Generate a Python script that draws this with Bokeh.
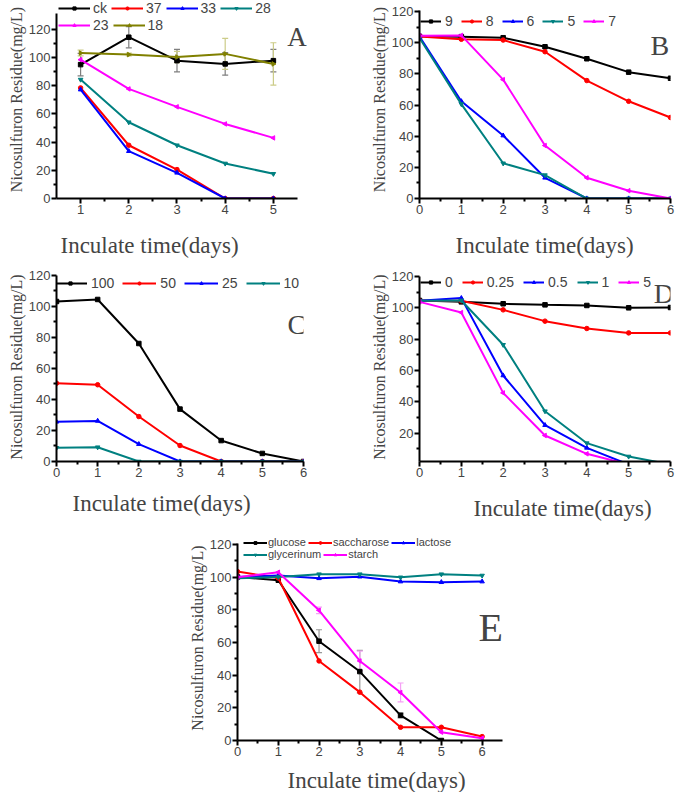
import math
from bokeh.plotting import figure
from bokeh.models import (Range1d, FixedTicker, Legend, LegendItem, Label, Whisker,
                          ColumnDataSource, Title, TeeHead)
from bokeh.layouts import column, row
from bokeh.embed import file_html
from bokeh.resources import INLINE

BLACK = "#000000"; RED = "#ff0000"; BLUE = "#0000ff"
TEAL = "#008080"; MAGENTA = "#ff00ff"; OLIVE = "#808000"

# ---------------- data ----------------
# Panel A (temperature)
a_days = [1, 2, 3, 4, 5]
a_ck = [94.8, 114.2, 97.6, 95.3, 97.6]
a_ck_err = [8, 7.5, 8, 8, 8]
a_37 = [78.3, 37.7, 20.5, 0, 0]
a_33 = [77.1, 33.5, 18.2, 0, 0]
a_28 = [84.2, 54.0, 37.7, 24.8, 17.5]
a_23 = [98.3, 77.6, 64.9, 52.8, 42.9]
a_18 = [103.0, 101.9, 100.2, 102.4, 95.3]
a_18_err = [2, 1, 4, 11, 15]

# Panel B (pH)
b_days = [0, 1, 2, 3, 4, 5, 6]
b_9 = [104.1, 103.9, 103.2, 97.4, 89.7, 81.1, 77.2]
b_8 = [104.0, 102.2, 101.7, 94.2, 75.7, 62.4, 52.0]
b_6 = [104.0, 62.4, 40.4, 13.3, 0, 0, 0]
b_5 = [103.0, 60.6, 22.6, 15.0, 0, 0, 0]
b_7 = [104.5, 104.7, 76.3, 34.0, 13.3, 5.0, 0]

# Panel C (initial concentration)
c_days = [0, 1, 2, 3, 4, 5, 6]
c_100 = [103.2, 104.5, 76.1, 33.8, 13.5, 5.2, 0]
c_50 = [50.5, 49.5, 29.0, 10.3, 0, 0, 0]
c_25 = [25.6, 26.2, 11.2, 0, 0, 0, 0]
c_10 = [8.8, 9.2, 0, 0, 0, 0, 0]

# Panel D (inoculum)
d_days = [0, 1, 2, 3, 4, 5, 6]
d_0 = [104.7, 103.8, 102.6, 101.9, 101.5, 100.0, 100.2]
d_025 = [104.5, 104.5, 98.7, 91.5, 86.8, 84.0, 84.0]
d_05 = [104.5, 106.2, 56.8, 25.1, 10.6, 0, 0]
d_1 = [104.5, 104.7, 76.4, 34.0, 13.6, 5.1, 0]
d_5 = [103.8, 97.0, 45.7, 18.5, 6.8, 0, 0]

# Panel E (carbon source)
e_days = [0, 1, 2, 3, 4, 5, 6]
e_glucose_days = [0, 1, 2, 3, 4, 5]
e_glucose = [100.1, 98.1, 60.8, 42.2, 15.4, 0]
e_glucose_err = [0, 0, 7, 13, 1.5, 0]
e_saccharose = [103.4, 99.5, 48.7, 29.6, 8.1, 8.1, 2.4]
e_lactose = [100.1, 101.0, 99.3, 100.3, 97.3, 96.9, 97.3]
e_glycerinum = [99.3, 100.1, 101.8, 101.8, 99.9, 101.8, 101.0]
e_starch = [100.0, 103.0, 79.7, 48.7, 29.4, 5.1, 1.4]
e_starch_err = [0, 0, 2, 6, 5.8, 0, 0]

y_ticks = [0, 20, 40, 60, 80, 100, 120]
y_minor = [10, 30, 50, 70, 90, 110]
d_y_ticks = [20, 40, 60, 80, 100, 120]
d_y_minor = [10, 30, 50, 70, 90, 110]
x_ticks_a = [1, 2, 3, 4, 5]
x_minor_a = [1.5, 2.5, 3.5, 4.5]
x_ticks = [0, 1, 2, 3, 4, 5, 6]
x_minor = [0.5, 1.5, 2.5, 3.5, 4.5, 5.5]

YLABEL = "Nicosulfuron Residue(mg/L)"
XLABEL = "Inculate time(days)"
SANS = "Liberation Sans"
SERIF = "Liberation Serif"


def make_fig(fw, fh, left, right, top, bottom, xr, yr, xt, xm, yt, ym,
             xlab_offset, gap, xbounds, ybounds):
    p = figure(frame_width=fw, frame_height=fh, min_border_left=left,
               min_border_right=right, min_border_top=top,
               min_border_bottom=bottom, x_range=Range1d(*xr),
               y_range=Range1d(*yr), output_backend="svg",
               toolbar_location=None)
    p.xgrid.visible = False
    p.ygrid.visible = False
    p.outline_line_color = None
    p.xaxis.ticker = FixedTicker(ticks=xt, minor_ticks=xm)
    p.yaxis.ticker = FixedTicker(ticks=yt, minor_ticks=ym)
    p.xaxis.bounds = xbounds
    p.yaxis.bounds = ybounds
    for ax in p.xaxis + p.yaxis:
        ax.axis_line_width = 2
        ax.major_tick_line_width = 2
        ax.minor_tick_line_width = 2
        ax.major_tick_in = 0
        ax.major_tick_out = 5
        ax.minor_tick_in = 0
        ax.minor_tick_out = 3
        ax.major_label_text_font = SANS
        ax.major_label_text_font_size = "13px"
        ax.major_label_standoff = 1
    p.yaxis.axis_label = YLABEL
    p.yaxis.axis_label_text_font = SERIF
    p.yaxis.axis_label_text_font_style = "normal"
    p.yaxis.axis_label_text_font_size = "16px"
    p.yaxis.axis_label_standoff = 1
    if gap > 0:
        p.add_layout(Title(text=" ", text_font_size="1px", standoff=gap,
                           align="left"), "below")
    t = Title(text=XLABEL, align="left", offset=xlab_offset, standoff=0,
              text_font=SERIF, text_font_style="normal",
              text_font_size="23px")
    p.add_layout(t, "below")
    return p


def series(p, x, y, color, marker, label, angle=0.0):
    r1 = p.line(x, y, line_color=color, line_width=2)
    r2 = p.scatter(x, y, marker=marker, size=4.5, angle=angle,
                   fill_color=color, line_color=color)
    return LegendItem(label=label, renderers=[r1, r2])


def legend(p, items, loc, glyph_w, spacing, font="14px", h=16, gh=8,
           standoff=3):
    leg = Legend(items=items, location=loc, orientation="horizontal",
                 glyph_width=glyph_w, glyph_height=gh, label_height=h,
                 label_width=0, label_standoff=standoff, spacing=spacing,
                 padding=0, margin=0, border_line_color=None,
                 background_fill_alpha=0, label_text_font=SANS,
                 label_text_font_size=font)
    p.add_layout(leg)


def errbars(p, x, y, err, color):
    xs, lo, hi = [], [], []
    for xi, yi, ei in zip(x, y, err):
        if ei > 0:
            xs.append(xi); lo.append(yi - ei); hi.append(yi + ei)
    src = ColumnDataSource(dict(x=xs, lo=lo, hi=hi))
    w = Whisker(source=src, base="x", lower="lo", upper="hi",
                line_color=color, line_width=1.2, level="underlay",
                upper_head=TeeHead(size=6, line_color=color, line_width=1.2),
                lower_head=TeeHead(size=6, line_color=color, line_width=1.2))
    p.add_layout(w)


def letter(p, x, y, txt, size):
    p.add_layout(Label(x=x, y=y, text=txt, text_font=SERIF,
                       text_font_size=size, text_baseline="alphabetic"))


LEFT = math.pi / 2
RIGHT = -math.pi / 2

# ---------------- Panel A ----------------
pa = make_fig(254, 198, 56, 28, 0, 60, (0.5, 5.77), (0, 140.2),
              x_ticks_a, x_minor_a, y_ticks, y_minor, 4, 11,
              (0.5, 5.5), (0, 131))
errbars(pa, a_days, a_ck, a_ck_err, "#7f7f7f")
errbars(pa, a_days, a_18, a_18_err, "#cccc88")
ia = [series(pa, a_days, a_ck, BLACK, "square", "ck"),
      series(pa, a_days, a_37, RED, "circle", "37"),
      series(pa, a_days, a_33, BLUE, "triangle", "33"),
      series(pa, a_days, a_28, TEAL, "inverted_triangle", "28"),
      series(pa, a_days, a_23, MAGENTA, "triangle", "23", LEFT),
      series(pa, a_days, a_18, OLIVE, "triangle", "18", RIGHT)]
legend(pa, ia[:4], (2, 182), 32, 4)
legend(pa, ia[4:], (2, 165), 32, 4)
letter(pa, 5.29, 114.7, "A", "27px")

# ---------------- Panel B ----------------
pb = make_fig(251, 198, 81, 5, 0, 60, (0, 6), (0, 127.1),
              x_ticks, x_minor, y_ticks, y_minor, 36, 11,
              (0, 6), (0, 120.5))
ib = [series(pb, b_days, b_9, BLACK, "square", "9"),
      series(pb, b_days, b_8, RED, "circle", "8"),
      series(pb, b_days, b_6, BLUE, "triangle", "6"),
      series(pb, b_days, b_5, TEAL, "inverted_triangle", "5"),
      series(pb, b_days, b_7, MAGENTA, "triangle", "7", LEFT)]
legend(pb, ib, (1, 169), 21, 8, standoff=4)
letter(pb, 5.52, 98.2, "B", "28px")

# ---------------- Panel C ----------------
pc = make_fig(247, 189, 56, 35, 14, 61, (0, 6), (0, 121.9),
              x_ticks, x_minor, y_ticks, y_minor, 16, 6,
              (0, 6), (0, 120))
ic = [series(pc, c_days, c_100, BLACK, "square", "100"),
      series(pc, c_days, c_50, RED, "circle", "50"),
      series(pc, c_days, c_25, BLUE, "triangle", "25"),
      series(pc, c_days, c_10, TEAL, "inverted_triangle", "10")]
legend(pc, ic, (-3, 170), 34, 8, standoff=4)
letter(pc, 5.61, 88.4, "C", "28px")

# ---------------- Panel D ----------------
pd_ = make_fig(251, 189, 81, 5, 14, 61, (0, 6), (1.9, 122.55),
               x_ticks, x_minor, d_y_ticks, d_y_minor, 54, 11,
               (0, 6), (1.9, 120))
idd = [series(pd_, d_days, d_0, BLACK, "square", "0"),
       series(pd_, d_days, d_025, RED, "circle", "0.25"),
       series(pd_, d_days, d_05, BLUE, "triangle", "0.5"),
       series(pd_, d_days, d_1, TEAL, "inverted_triangle", "1"),
       series(pd_, d_days, d_5, MAGENTA, "triangle", "5", LEFT)]
legend(pd_, idd, (1, 171), 21, 9, standoff=4)
letter(pd_, 5.6, 109.1, "D", "28px")

# ---------------- Panel E ----------------
pe = make_fig(265, 205, 237, 20, 13, 50, (0, 6.5), (0, 125.5),
              x_ticks, x_minor, y_ticks, y_minor, 50, 4,
              (0, 6.5), (0, 120.6))
errbars(pe, e_glucose_days, e_glucose, e_glucose_err, "#999999")
errbars(pe, e_days, e_starch, e_starch_err, "#f5a0f5")
ie = [series(pe, e_glucose_days, e_glucose, BLACK, "square", "glucose"),
      series(pe, e_days, e_saccharose, RED, "circle", "saccharose"),
      series(pe, e_days, e_lactose, BLUE, "triangle", "lactose"),
      series(pe, e_days, e_glycerinum, TEAL, "inverted_triangle", "glycerinum"),
      series(pe, e_days, e_starch, MAGENTA, "triangle", "starch", LEFT)]
legend(pe, ie[:3], (6, 192), 24, 2, font="11px", h=12, gh=7, standoff=1)
legend(pe, ie[3:], (6, 180), 24, 2, font="11px", h=12, gh=7, standoff=1)
letter(pe, 5.91, 69.2, "E", "40px")

layout = column(row(pa, pb), row(pc, pd_), pe)
open("out.html", "w").write(file_html(layout, INLINE))
